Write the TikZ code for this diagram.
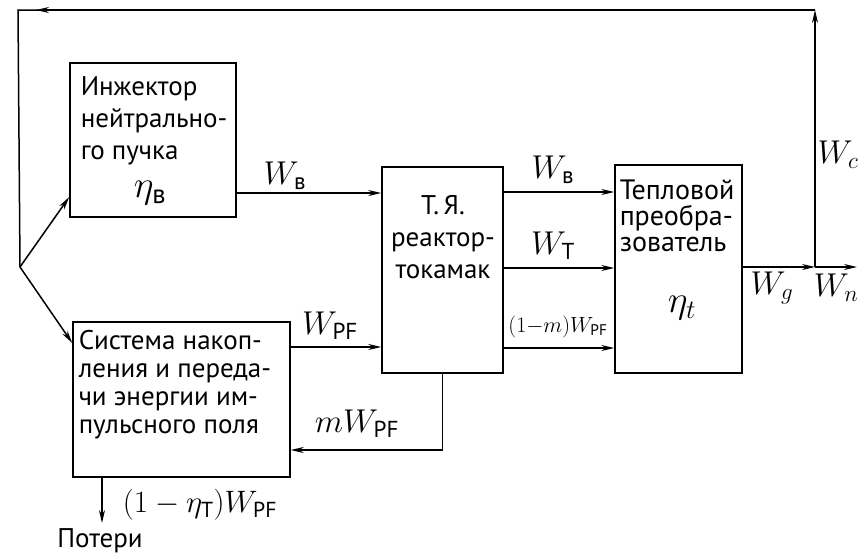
\RequirePackage{fix-cm}
\documentclass[tikz,border=0pt]{standalone}
\usepackage{amsmath}
\usepackage{fontspec}
\setmainfont{PT Sans}
\usetikzlibrary{arrows.meta,positioning,calc}

\begin{document}
\begin{tikzpicture}[x=1pt, y=-1pt, line width=1.5pt,
    blk/.style={draw, rectangle, inner sep=0pt},
    txt/.style={inner sep=0pt, anchor=north west, align=left,
      font=\fontsize{27}{32}\selectfont},
    lbl/.style={inner sep=0pt, font=\fontsize{33}{36}\selectfont},
    flow/.style={-{Stealth[length=13pt, width=6pt]}}
  ]
  \useasboundingbox (0,0) rectangle (864,558);

  % blocks
  \node[blk, minimum width=166pt, minimum height=154pt] (inj) at (153,140) {};
  \node[blk, minimum width=217pt, minimum height=155pt] (sys) at (181.5,399.5) {};
  \node[blk, minimum width=121pt, minimum height=206pt] (tok) at (442.5,270) {};
  \node[blk, minimum width=127pt, minimum height=208pt] (conv) at (678.5,269) {};

  % block texts
  \node[txt] (injtxt) at (80,76) {Инжектор\\нейтрально-\\го пучка};
  \node[lbl, font=\fontsize{38}{40}\selectfont] (etab) at (150,193) {$\eta_{\text{в}}$};
  \node[txt, font=\fontsize{27}{28}\selectfont] (systxt) at (78,330)
    {Система накоп-\\ления и переда-\\чи энергии им-\\пульсного поля};
  \node[txt, anchor=north, align=center] (toktxt) at (443,195)
    {Т.\,Я.\\реактор-\\токамак};
  \node[txt, font=\fontsize{28}{26}\selectfont] (convtxt) at (619,179)
    {Тепловой\\преобра-\\зователь};
  \node[lbl, font=\fontsize{38}{40}\selectfont] (etat) at (682,308) {$\eta_t$};

  % connection points
  \coordinate (split) at (20,267);
  \coordinate (topL) at (18,10);
  \coordinate (tipL) at (36,10);
  \coordinate (topR) at (815,10);
  \coordinate (brR) at (815,267);
  \coordinate (outN) at (857,267);
  \coordinate (loss) at (102,523);

  % flows
  \draw[flow] (split) -- (inj.west |- 0,197);
  \draw[flow] (split) -- (sys.west |- 0,343);
  \draw[flow] (inj.east |- 0,193) -- (tok.west |- 0,193);
  \draw[flow] (sys.east |- 0,347) -- (tok.west |- 0,347);
  \draw[flow] (tok.south) |- (sys.east |- 0,450);
  \draw[flow] (tok.east |- 0,192) -- (conv.west |- 0,192);
  \draw[flow] (tok.east |- 0,268) -- (conv.west |- 0,268);
  \draw[flow] (tok.east |- 0,348) -- (conv.west |- 0,348);
  \draw[flow] (conv.east |- brR) -- (brR);
  \draw[flow] (brR) -- (outN);
  \draw[flow] (brR) -- (topR);
  \draw (topR) -- (topL) -- (split);
  \draw[flow] (topR) -- (tipL);
  \draw[flow] (loss |- sys.south) -- (loss);

  % flow labels
  \node[lbl] (lWb) at (285,176) {$W_{\text{в}}$};
  \node[lbl] (lWpf) at (330,326) {$W_{\mathrm{PF}}$};
  \node[lbl] (lmWpf) at (357,424) {$mW_{\mathrm{PF}}$};
  \node[lbl, font=\fontsize{31}{34}\selectfont] (lloss) at (200,505) {$(1-\eta_{\mathrm{T}})W_{\mathrm{PF}}$};
  \node[txt, anchor=center] (lost) at (100,541) {Потери};
  \node[lbl] (lWb2) at (553,170) {$W_{\text{в}}$};
  \node[lbl] (lWt) at (553,246) {$W_{\mathrm{T}}$};
  \node[lbl, font=\fontsize{22}{26}\selectfont] (lWr) at (558,327) {$(1{-}m)W_{\mathrm{PF}}$};
  \node[lbl] (lWg) at (772,288) {$W_g$};
  \node[lbl] (lWn) at (836,288) {$W_n$};
  \node[lbl] (lWc) at (838,155) {$W_c$};
\end{tikzpicture}
\end{document}
